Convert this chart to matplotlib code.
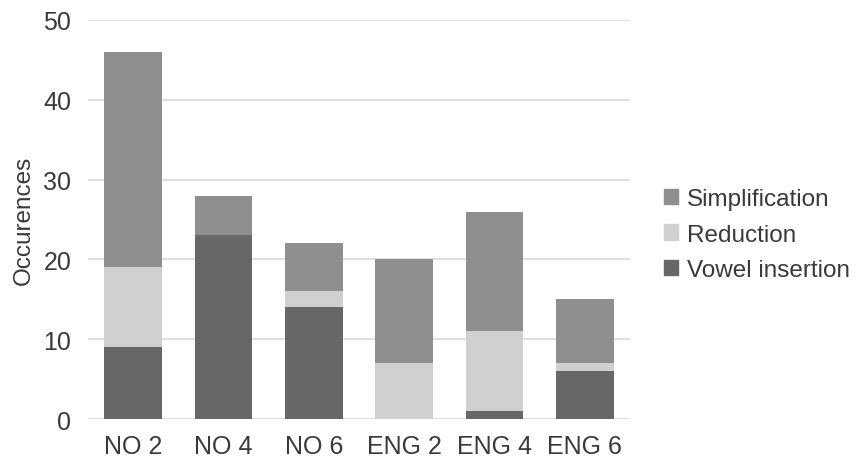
import numpy as np
import matplotlib
matplotlib.use("Agg")
import matplotlib.pyplot as plt
from matplotlib.patches import Patch

plt.rcParams['font.family'] = ['Liberation Sans', 'DejaVu Sans']

categories = ["NO 2", "NO 4", "NO 6", "ENG 2", "ENG 4", "ENG 6"]
vowel_insertion = [9, 23, 14, 0, 1, 6]
reduction = [10, 0, 2, 7, 10, 1]
simplification = [27, 5, 6, 13, 15, 8]

c_vowel = "#676767"
c_red = "#d0d0d0"
c_simp = "#8f8f8f"
txt = "#3a3a3a"

fig = plt.figure(figsize=(8.59, 4.64), dpi=100)
ax = fig.add_axes([0.1024, 0.0948, 0.631, 0.86])

x = np.arange(len(categories))
w = 0.64
v = np.array(vowel_insertion)
r = np.array(reduction)
s = np.array(simplification)
ax.bar(x, v, w, color=c_vowel, zorder=3)
ax.bar(x, r, w, bottom=v, color=c_red, zorder=3)
ax.bar(x, s, w, bottom=v + r, color=c_simp, zorder=3)

ax.set_xlim(-0.5, len(categories) - 0.5)
ax.set_ylim(0, 50)
ax.set_yticks([0, 10, 20, 30, 40, 50])
ax.set_xticks(x)
ax.set_xticklabels(categories)
ax.yaxis.grid(True, color="#d9d9d9", linewidth=1.2, zorder=0)
for sp in ax.spines.values():
    sp.set_visible(False)
ax.tick_params(length=0, labelsize=18, colors=txt)
ax.tick_params(axis="y", pad=12)
ax.tick_params(axis="x", pad=11)
ax.set_ylabel("Occurences", fontsize=17.5, color=txt, labelpad=6)

handles = [Patch(color=c_simp), Patch(color=c_red), Patch(color=c_vowel)]
labels = ["Simplification", "Reduction", "Vowel insertion"]
fig.legend(handles, labels, loc="center left", bbox_to_anchor=(0.747, 0.492),
           frameon=False, fontsize=17.5, handlelength=0.6, handleheight=0.6,
           handletextpad=0.35, labelspacing=0.55, labelcolor=txt)

fig.savefig("out.png", dpi=100)
